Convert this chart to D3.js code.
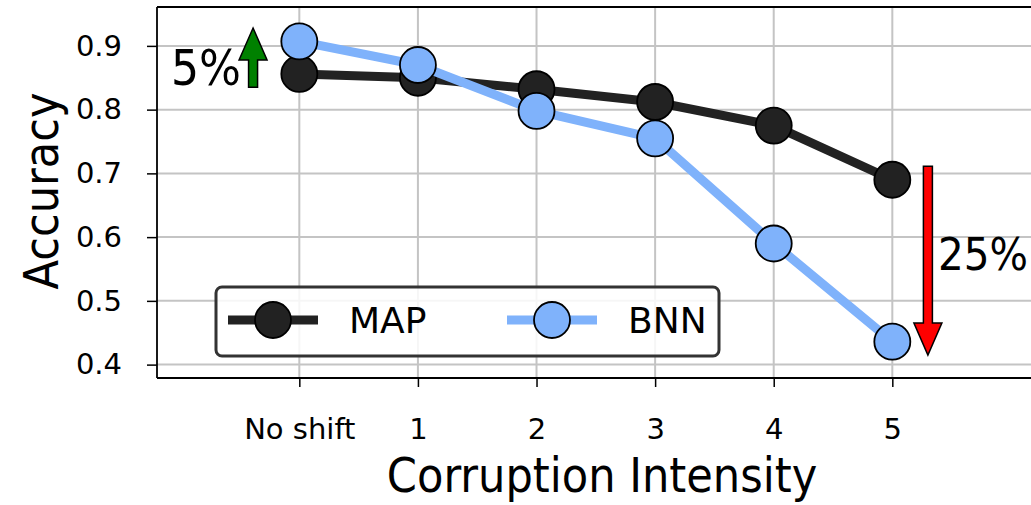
<!DOCTYPE html>
<html>
<head>
<meta charset="utf-8">
<style>
  body { margin: 0; background: #fff; }
  svg text { font-family: "DejaVu Sans Condensed", "DejaVu Sans", sans-serif; fill: #000; }
  svg text.wide { font-family: "DejaVu Sans", sans-serif; }
</style>
</head>
<body>
<div id="chart"></div>
<script src="https://d3js.org/d3.v7.min.js"></script>
<script>
    // data
    const categories = ['No shift', '1', '2', '3', '4', '5'];
    const mapAcc = [0.856, 0.850, 0.832, 0.812, 0.775, 0.690];
    const bnnAcc = [0.907, 0.870, 0.798, 0.755, 0.590, 0.436];
    const yTicks = [0.4, 0.5, 0.6, 0.7, 0.8, 0.9];
    const seriesNames = ['MAP', 'BNN'];

    const W = 1031, H = 505;
    const svg = d3.select('#chart').append('svg')
                  .attr('width', W).attr('height', H);

    const padL = 157, padT = 7, padB = 378;
    const x = d3.scaleLinear().domain([-1.2, 6.2]).range([padL, padL + 7.4 * 118.6]);
    const y = d3.scaleLinear().domain([0.379, 0.961]).range([padB, padT]);

    // grid
    const grid = svg.append('g');
    grid.selectAll('.vg').data(categories).enter().append('line')
        .attr('x1', (d, i) => x(i)).attr('x2', (d, i) => x(i))
        .attr('y1', padT).attr('y2', padB)
        .style('stroke', '#c4c4c4').style('stroke-width', 2);
    grid.selectAll('.hg').data(yTicks).enter().append('line')
        .attr('x1', padL).attr('x2', W)
        .attr('y1', d => y(d)).attr('y2', d => y(d))
        .style('stroke', '#c4c4c4').style('stroke-width', 2);

    // axes
    const yAxis = d3.axisLeft(y).tickValues(yTicks).tickFormat(d3.format('.1f')).tickSize(10).tickPadding(25);
    const xAxis = d3.axisBottom(x).tickValues(d3.range(categories.length)).tickFormat(i => categories[i]).tickSize(9).tickPadding(31);

    const gy = svg.append('g').attr('transform', `translate(${padL},0)`).call(yAxis);
    const gx = svg.append('g').attr('transform', `translate(0,${padB})`).call(xAxis);
    [gy, gx].forEach(g => {
        g.select('.domain').remove();
        g.selectAll('.tick line').style('stroke', '#000').style('stroke-width', 1.5);
        g.selectAll('.tick text').attr('class', 'wide').style('font-size', '29px').attr('fill', '#000');
    });
    // spines
    svg.append('line').attr('x1', padL).attr('x2', padL).attr('y1', padT).attr('y2', padB)
       .style('stroke', '#000').style('stroke-width', 1.8);
    svg.append('line').attr('x1', padL).attr('x2', W).attr('y1', padB).attr('y2', padB)
       .style('stroke', '#000').style('stroke-width', 1.8);
    svg.append('line').attr('x1', padL).attr('x2', W).attr('y1', padT).attr('y2', padT)
       .style('stroke', '#000').style('stroke-width', 1.8);

    // axis labels
    svg.append('text').attr('x', 602).attr('y', 492).attr('text-anchor', 'middle')
       .style('font-size', '48px').text('Corruption Intensity');
    svg.append('text').attr('transform', 'translate(58,191) rotate(-90)').attr('text-anchor', 'middle')
       .style('font-size', '48px').text('Accuracy');

    // lines + markers
    const colors = {MAP: '#222222', BNN: '#7fb2fb'};
    const series = [{name: 'MAP', vals: mapAcc}, {name: 'BNN', vals: bnnAcc}];
    const line = d3.line().x((d, i) => x(i)).y(d => y(d));
    series.forEach(s => {
        svg.append('path').datum(s.vals).attr('d', line)
           .style('fill', 'none').style('stroke', colors[s.name]).style('stroke-width', 9)
           .style('stroke-linejoin', 'round');
        svg.append('g').selectAll('circle').data(s.vals).enter().append('circle')
           .attr('cx', (d, i) => x(i)).attr('cy', d => y(d)).attr('r', 18)
           .style('fill', colors[s.name]).style('stroke', '#000').style('stroke-width', 1.8);
    });

    // arrows
    function arrow(xc, y0, y1, color) {
        const dir = y1 > y0 ? 1 : -1;
        const hl = 32, sw = 4.5, hw = 14;
        const yb = y1 - dir * hl;
        const pts = [[xc - sw, y0], [xc + sw, y0], [xc + sw, yb], [xc + hw, yb], [xc, y1], [xc - hw, yb], [xc - sw, yb]];
        svg.append('path').attr('d', d3.line()(pts) + 'Z')
           .style('fill', color).style('stroke', '#000').style('stroke-width', 1.5);
    }
    arrow(x(-0.39), y(0.835), y(0.928), '#008000');
    arrow(x(5.3), y(0.711), y(0.415), '#ff0000');

    svg.append('text').attr('x', 171).attr('y', 85).style('font-size', '49px').text('5%');
    svg.append('text').attr('x', 938).attr('y', 270).style('font-size', '45px').text('25%');

    // legend
    const lg = svg.append('g');
    lg.append('rect').attr('x', 216).attr('y', 287).attr('width', 503).attr('height', 69)
      .attr('rx', 6).style('fill', '#fff').style('fill-opacity', 0.85)
      .style('stroke', '#333').style('stroke-width', 3);
    const lx = [228, 507];
    seriesNames.forEach((n, i) => {
        lg.append('line').attr('x1', lx[i]).attr('x2', lx[i] + 90).attr('y1', 320).attr('y2', 320)
          .style('stroke', colors[n]).style('stroke-width', 9);
        lg.append('circle').attr('cx', lx[i] + 45).attr('cy', 320).attr('r', 18)
          .style('fill', colors[n]).style('stroke', '#000').style('stroke-width', 1.8);
        lg.append('text').attr('class', 'wide').attr('x', lx[i] + 121).attr('y', 333).style('font-size', '36px').text(n);
    });
</script>
</body>
</html>
